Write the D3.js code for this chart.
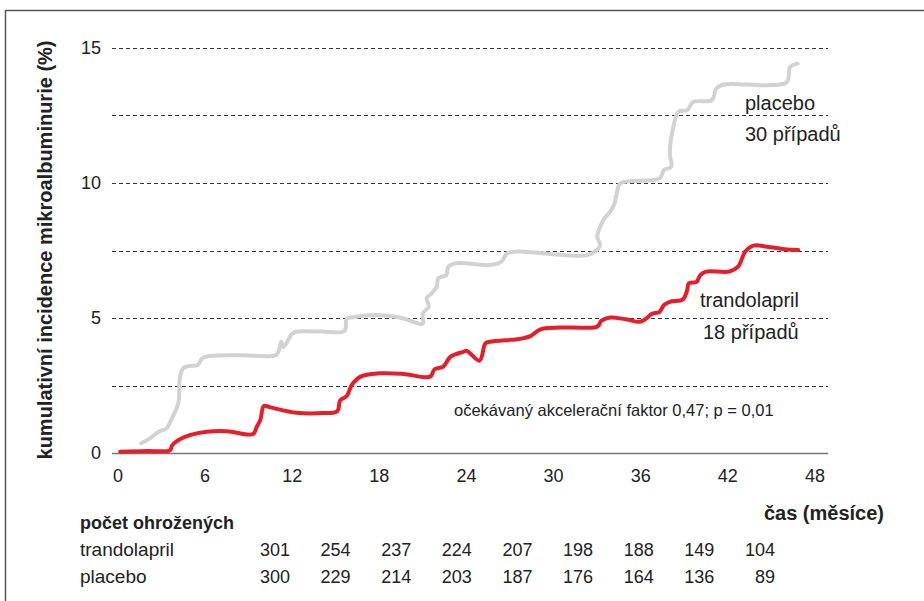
<html>
<head>
  <meta charset="utf-8">
  <title>Kumulativní incidence mikroalbuminurie</title>
  <script src="https://cdnjs.cloudflare.com/ajax/libs/d3/7.8.5/d3.min.js"></script>
  <style>
    body { margin: 0; background: #fff; }
    text { font-family: "Liberation Sans", Arial, sans-serif; fill: #222; }
    .grid { stroke: #333; stroke-width: 1px; stroke-dasharray: 4,3; }
    .bold { font-weight: bold; }
  </style>
</head>
<body>
<svg id="chart" width="924" height="601"></svg>
<script>
// months, cumulative incidence (%)
var placebo = [
  [1.6,0.36],[2.2,0.54],[2.8,0.79],[3.35,0.91],[3.6,1.16],[4.15,1.84],[4.27,2.83],[4.5,3.14],
  [4.85,3.22],[5.5,3.26],[5.8,3.51],[6.3,3.59],[8.5,3.62],[10.9,3.64],[11.15,3.94],[11.25,4.12],
  [11.4,3.92],[11.85,4.31],[12.1,4.46],[14,4.5],[15.6,4.52],[15.75,4.97],[16.2,5.03],[17.8,5.11],
  [19.4,5.02],[20.8,4.78],[21.0,4.8],[21.0,5.17],[21.4,5.42],[21.26,5.73],[21.6,5.91],[21.95,6.16],
  [22.06,6.47],[22.6,6.59],[22.75,6.9],[23.3,7.03],[25.6,6.96],[26.4,7.09],[26.8,7.4],[27.5,7.46],
  [30.7,7.33],[32.3,7.33],[33.0,7.52],[33.2,7.7],[33.0,8.01],[33.2,8.38],[33.5,8.69],[33.9,8.94],
  [34.2,9.25],[34.35,9.62],[34.6,9.99],[37.3,10.17],[37.6,10.48],[38.1,10.6],[38.0,11.1],
  [38.25,12.09],[38.6,12.64],[39.2,12.7],[39.6,13.0],[40.9,13.07],[41.2,13.5],[41.7,13.65],
  [44.7,13.62],[46.05,13.73],[46.3,14.3],[46.8,14.42]
];
var trandolapril = [
  [0.15,0.05],[2,0.07],[3.6,0.11],[3.7,0.26],[4.0,0.42],[5.0,0.67],[6.1,0.79],[7.5,0.81],
  [9.3,0.7],[9.55,0.97],[9.8,1.22],[10.05,1.74],[10.5,1.69],[12.3,1.49],[14.1,1.48],[15.1,1.55],
  [15.3,1.95],[15.75,2.11],[16.1,2.52],[16.7,2.83],[18.0,2.95],[19.65,2.93],[21.5,2.83],[21.8,3.1],
  [22.4,3.2],[22.9,3.57],[23.8,3.75],[24.0,3.79],[24.9,3.42],[25.3,4.06],[25.6,4.12],[27.0,4.19],
  [27.5,4.21],[28.4,4.33],[29.1,4.58],[31.1,4.65],[33.0,4.68],[33.3,4.9],[33.9,5.02],[35.0,4.95],
  [35.95,4.86],[36.4,4.99],[36.75,5.15],[37.3,5.23],[37.6,5.48],[38.0,5.6],[38.9,5.69],[39.2,6.04],
  [39.3,6.28],[39.85,6.34],[40.1,6.59],[40.5,6.72],[42.1,6.72],[42.7,6.9],[43.2,7.46],[43.75,7.68],
  [44.7,7.64],[46.05,7.54],[46.85,7.52]
];
var xTicks = [0, 6, 12, 18, 24, 30, 36, 42, 48];
var yTicks = [0, 5, 10, 15];
var gridLevels = [2.5, 5, 7.5, 10, 12.5, 15];
var riskLabels = ["trandolapril", "placebo"];
var riskTrandolapril = [301, 254, 237, 224, 207, 198, 188, 149, 104];
var riskPlacebo = [300, 229, 214, 203, 187, 176, 164, 136, 89];

var svg = d3.select("#chart");

// frame
svg.append("path")
  .attr("d", "M5.5,601 V10.5 H924")
  .attr("fill", "none").attr("stroke", "#555").attr("stroke-width", 1.5);

var x = d3.scaleLinear().domain([0, 48]).range([118, 815]);
var y = d3.scaleLinear().domain([0, 15]).range([453, 48]);

svg.append("g").selectAll("line")
  .data(gridLevels)
  .enter().append("line")
  .attr("class", "grid")
  .attr("x1", 112).attr("x2", 828)
  .attr("y1", d => Math.round(y(d)) + 0.5).attr("y2", d => Math.round(y(d)) + 0.5);

svg.append("line")
  .attr("x1", 112).attr("x2", 828)
  .attr("y1", y(0) + 0.5).attr("y2", y(0) + 0.5)
  .attr("stroke", "#777").attr("stroke-width", 1.5);

svg.append("g").selectAll("text")
  .data(xTicks)
  .enter().append("text")
  .attr("x", d => x(d)).attr("y", 482)
  .attr("text-anchor", "middle")
  .style("font-size", "18px")
  .text(d => d);

svg.append("g").selectAll("text")
  .data(yTicks)
  .enter().append("text")
  .attr("x", 101).attr("y", d => y(d) + 6)
  .attr("text-anchor", "end")
  .style("font-size", "18px")
  .text(d => d);

svg.append("text")
  .attr("class", "bold")
  .attr("transform", "translate(52,250) rotate(-90)")
  .attr("text-anchor", "middle")
  .style("font-size", "20px")
  .text("kumulativní incidence mikroalbuminurie (%)");

svg.append("text")
  .attr("class", "bold")
  .attr("x", 884).attr("y", 520)
  .attr("text-anchor", "end")
  .style("font-size", "20px")
  .text("čas (měsíce)");

var line = d3.line()
  .x(d => x(d[0])).y(d => y(d[1]))
  .curve(d3.curveCatmullRom.alpha(0.5));

svg.append("path")
  .datum(placebo)
  .attr("d", line)
  .attr("fill", "none").attr("stroke", "#d2d2d2")
  .attr("stroke-width", 4).attr("stroke-linecap", "round").attr("stroke-linejoin", "round");

svg.append("path")
  .datum(trandolapril)
  .attr("d", line)
  .attr("fill", "none").attr("stroke", "#e61e2b")
  .attr("stroke-width", 4).attr("stroke-linecap", "round").attr("stroke-linejoin", "round");

// labels in plot
var notes = [
  {t: "placebo", x: 745, y: 110, s: 20},
  {t: "30 případů", x: 745, y: 141, s: 20},
  {t: "trandolapril", x: 700, y: 307, s: 20},
  {t: "18 případů", x: 703, y: 339, s: 20},
  {t: "očekávaný akcelerační faktor 0,47; p = 0,01", x: 454, y: 416, s: 16.5}
];
svg.append("g").selectAll("text")
  .data(notes)
  .enter().append("text")
  .attr("x", d => d.x).attr("y", d => d.y)
  .style("font-size", d => d.s + "px")
  .text(d => d.t);

// number at risk
svg.append("text")
  .attr("class", "bold")
  .attr("x", 80).attr("y", 529)
  .style("font-size", "18px")
  .text("počet ohrožených");

var col = d3.scalePoint().domain(d3.range(9)).range([290, 775]);
var rows = [riskTrandolapril, riskPlacebo];
var rowY = d3.scalePoint().domain([0, 1]).range([556, 583]);

rows.forEach((r, i) => {
  svg.append("text")
    .attr("x", 80).attr("y", rowY(i))
    .style("font-size", "19px")
    .text(riskLabels[i]);
  svg.append("g").selectAll("text")
    .data(r)
    .enter().append("text")
    .attr("x", (d, j) => col(j)).attr("y", rowY(i))
    .attr("text-anchor", "end")
    .style("font-size", "18px")
    .text(d => d);
});
</script>
</body>
</html>
